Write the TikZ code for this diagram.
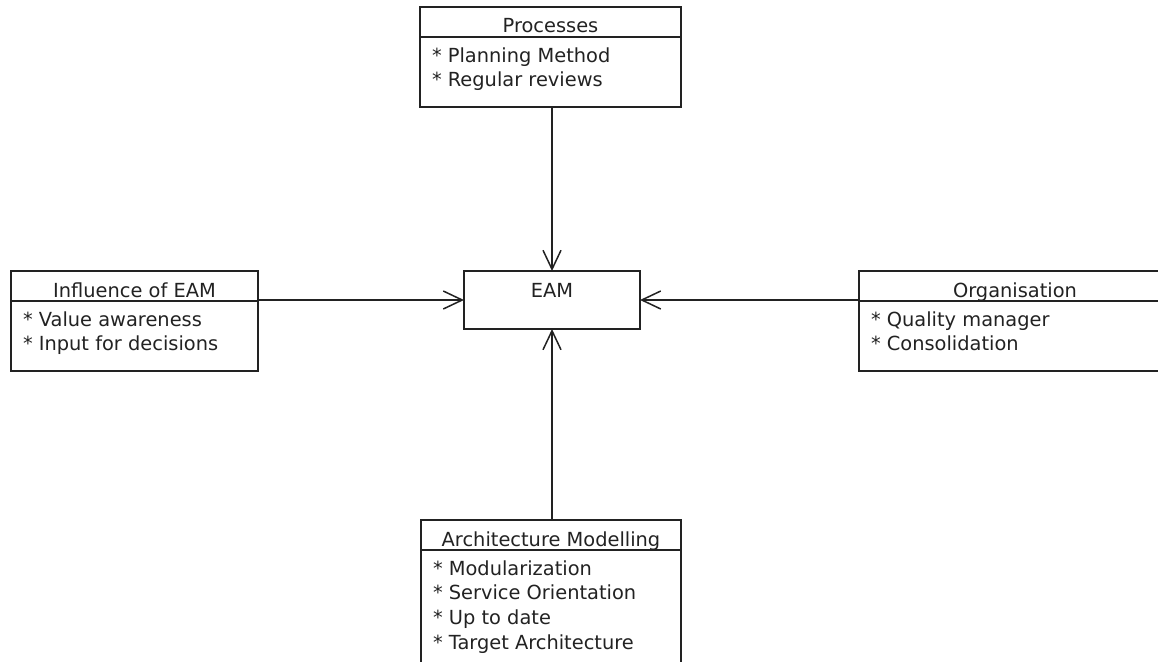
\documentclass[tikz,border=0pt]{standalone}
\usepackage{fontspec}
\usetikzlibrary{arrows.meta}
\newfontfamily\uifont{DejaVu Sans}
\definecolor{ink}{HTML}{222222}
\begin{document}
\begin{tikzpicture}[x=1pt,y=-1pt,
  every node/.style={font=\uifont\fontsize{19.4}{24.8}\selectfont, text=ink, outer sep=0pt},
  classhead/.style={draw=ink, line width=1.5pt, minimum width=#1, minimum height=30pt,
    inner sep=0pt, text height=26pt, text depth=4pt, anchor=north west},
  classbody/.style={draw=ink, line width=1.5pt, minimum width=#1, inner sep=0pt, anchor=north west},
  items/.style={anchor=north west, inner sep=0pt, align=left},
  link/.style={draw=ink, line width=1.5pt, -{Straight Barb[length=19pt,width=18pt]}}
]
\useasboundingbox (0,0) rectangle (1158,661);
\clip (0,0) rectangle (1158,661);

% central element
\node[draw=ink, line width=1.5pt, minimum width=176pt, inner sep=0pt,
      text height=26pt, text depth=32pt] (eam) at (552,300) {EAM};

% Processes (top)
\node[classhead=261pt] (proc-head) at (420,7) {Processes};
\node[classbody=261pt, minimum height=70pt] (proc-body) at (proc-head.south west) {};
\node[items] (proc-items) at ([xshift=12pt,yshift=-6pt]proc-body.north west)
  {\rule{0pt}{19pt}* Planning Method\\* Regular reviews};

% Influence of EAM (left)
\node[classhead=247pt] (infl-head) at (11,271) {Influence of EAM};
\node[classbody=247pt, minimum height=70pt] (infl-body) at (infl-head.south west) {};
\node[items] (infl-items) at ([xshift=12pt,yshift=-6pt]infl-body.north west)
  {\rule{0pt}{19pt}* Value awareness\\* Input for decisions};

% Organisation (right)
\node[classhead=312pt] (org-head) at (859,271) {Organisation};
\node[classbody=312pt, minimum height=70pt] (org-body) at (org-head.south west) {};
\node[items] (org-items) at ([xshift=12pt,yshift=-6pt]org-body.north west)
  {\rule{0pt}{19pt}* Quality manager\\* Consolidation};

% Architecture Modelling (bottom)
\node[classhead=260pt] (arch-head) at (421,520) {Architecture Modelling};
\node[classbody=260pt, minimum height=130pt] (arch-body) at (arch-head.south west) {};
\node[items] (arch-items) at ([xshift=12pt,yshift=-6pt]arch-body.north west)
  {\rule{0pt}{19pt}* Modularization\\* Service Orientation\\* Up to date\\* Target Architecture};

% connectors
\draw[link] (eam.north |- proc-body.south) -- (eam.north);
\draw[link] (infl-head.south east |- eam.west) -- (eam.west);
\draw[link] (org-head.south west |- eam.east) -- (eam.east);
\draw[link] (eam.south |- arch-head.north) -- (eam.south);
\end{tikzpicture}
\end{document}
